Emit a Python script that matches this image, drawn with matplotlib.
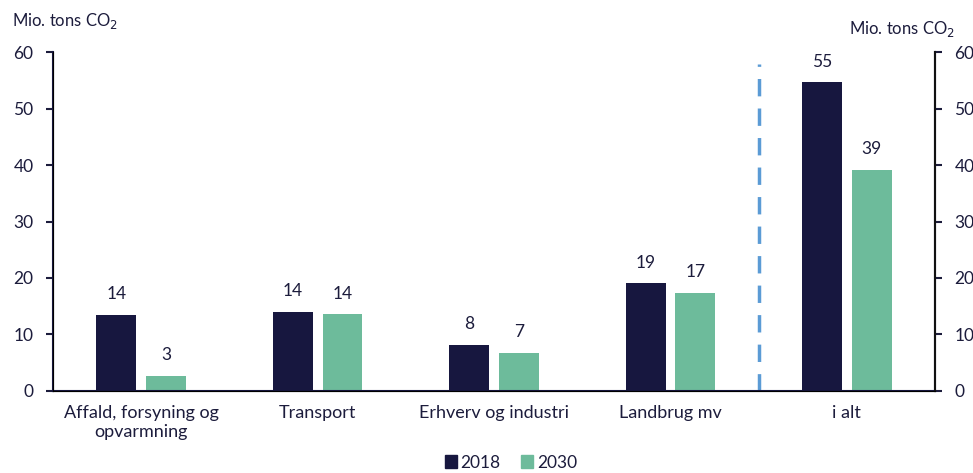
import numpy as np
import matplotlib.pyplot as plt
from matplotlib.patches import Patch

plt.rcParams['font.family'] = ['Lato', 'DejaVu Sans']

categories = ['Affald, forsyning og\nopvarmning', 'Transport', 'Erhverv og industri', 'Landbrug mv', 'i alt']
v2018 = [13.5, 14.0, 8.2, 19.1, 54.7]
v2030 = [2.7, 13.6, 6.8, 17.4, 39.2]
lab2018 = ['14', '14', '8', '19', '55']
lab2030 = ['3', '14', '7', '17', '39']

navy = '#17173f'
green = '#6dbb9b'
txt = '#1c1c3c'

fig = plt.figure(figsize=(9.73, 4.73), dpi=100)
ax = fig.add_axes([0.0545, 0.1734, 0.9065, 0.7166])
x = np.arange(len(categories))
w = 0.226
off = 0.141
ax.bar(x - off, v2018, w, color=navy, label='2018')
ax.bar(x + off, v2030, w, color=green, label='2030')
for i in x:
    ax.text(i - off, v2018[i] + 2.2, lab2018[i], ha='center', va='bottom', fontsize=12.5, color=txt)
    ax.text(i + off, v2030[i] + 2.2, lab2030[i], ha='center', va='bottom', fontsize=12.5, color=txt)

ax.axvline(3.5, ymin=0, ymax=0.965, color='#5b9bd5', lw=2.5, dashes=(5, 3.5))

ax.set_xlim(-0.5, 4.5)
ax.set_ylim(0, 60)
ax.set_yticks(range(0, 61, 10))
ax.set_xticks(x)
ax.set_xticklabels(categories, fontsize=13, color=txt, linespacing=1.25)
ax.tick_params(axis='x', length=0, pad=10)
ax.tick_params(axis='y', colors=txt, labelsize=12.5, length=5, width=1.5, pad=9)
for s in ['left', 'right', 'bottom']:
    ax.spines[s].set_color(navy)
    ax.spines[s].set_linewidth(1.5)
ax.spines['top'].set_visible(False)

ax2 = ax.twinx()
ax2.set_ylim(0, 60)
ax2.set_yticks(range(0, 61, 10))
ax2.tick_params(axis='y', colors=txt, labelsize=12.5, length=5, width=1.5, pad=9)
ax2.spines['top'].set_visible(False)
ax2.spines['right'].set_color('#111111')
ax2.spines['right'].set_linewidth(1.5)

fig.text(0.012, 0.955, 'Mio. tons CO$_2$', fontsize=12, color=txt, ha='left', va='center')
fig.text(0.982, 0.938, 'Mio. tons CO$_2$', fontsize=12, color=txt, ha='right', va='center')

handles = [Patch(color=navy, label='2018'), Patch(color=green, label='2030')]
fig.legend(handles=handles, loc='center', bbox_to_anchor=(0.525, 0.022), ncol=2, frameon=False,
           fontsize=12.5, handlelength=0.7, handleheight=0.7, handletextpad=0.2, columnspacing=1.2,
           labelcolor=txt)

fig.savefig('out.png', dpi=100)
